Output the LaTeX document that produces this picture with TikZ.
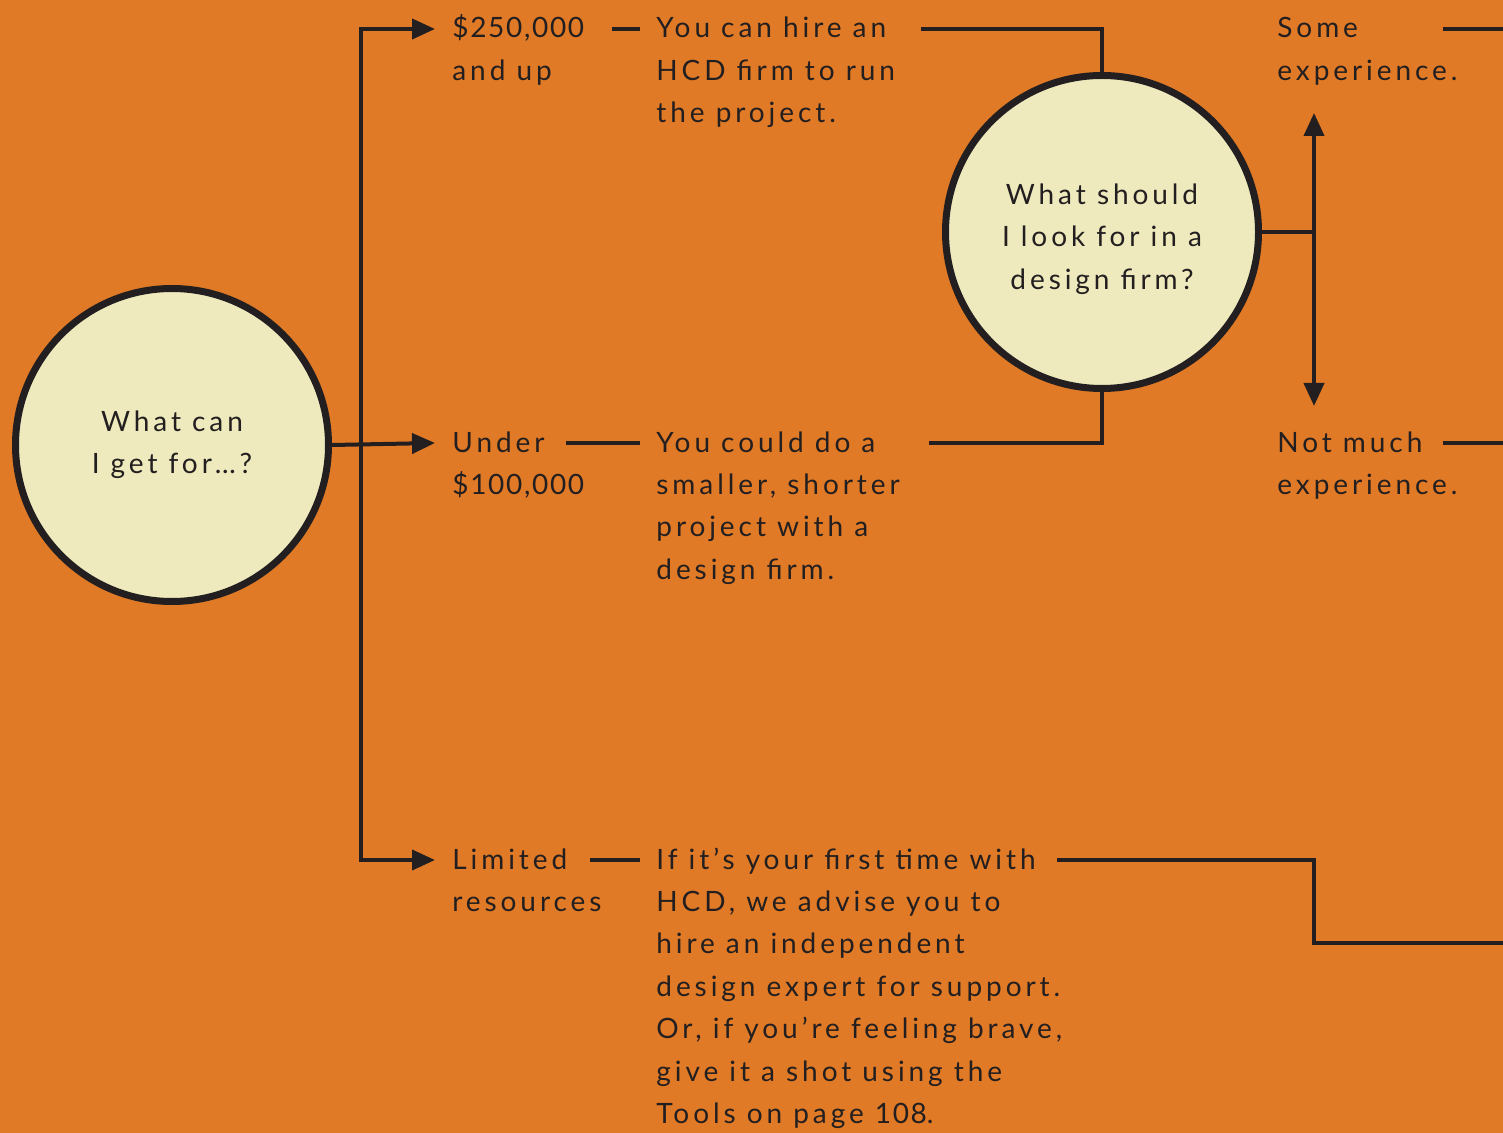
\documentclass[tikz,border=0pt]{standalone}
\usepackage{fontspec}
\setmainfont[LetterSpace=14]{Lato}
\newfontfamily\figfont[LetterSpace=6]{Lato}
\usetikzlibrary{arrows.meta,calc}
\definecolor{bgorange}{RGB}{224,122,38}
\definecolor{pale}{RGB}{238,234,189}
\definecolor{ink}{RGB}{35,31,32}
\newcommand{\textlines}[1]{\begin{tabular}[t]{@{}l@{}}#1\end{tabular}}
\tikzset{
  question/.style={circle,draw=ink,fill=pale,line width=3.5pt,minimum size=156.5pt,
    inner sep=0pt,align=center,text=ink},
  asking/.style={align=center,inner sep=0pt,text=ink},
  choice/.style={anchor=base west,inner sep=0pt,text=ink},
  link/.style={draw=ink,line width=2pt},
  tip/.style={link,-{Triangle[length=11.5pt,width=10pt]}},
  twotip/.style={link,{Triangle[length=11.5pt,width=10pt]}-{Triangle[length=11.5pt,width=10pt]}}
}
\begin{document}
\begin{tikzpicture}[x=0.5pt,y=-0.5pt,font=\fontsize{14}{21.2}\selectfont]
  \fill[bgorange] (0,0) rectangle (1503,1133);
  \useasboundingbox (0,0) rectangle (1503,1133);
  % questions
  \node[question] (q1) at (172,445) {What can\\I get for…?};
  \node[question] (q2) at (1102,232) {};
  \node[asking] (q2text) at (1102,239) {What should\\I look for in a\\design firm?};
  % budgets
  \node[choice] (b1) at (452,38) {\textlines{{\figfont\$250,000}\\and up}};
  \node[choice] (b2) at (452,452) {\textlines{Under\\{\figfont\$100,000}}};
  \node[choice] (b3) at (452,869) {\textlines{Limited\\resources}};
  % answers
  \node[choice] (a1) at (656,38) {\textlines{You can hire an\\HCD firm to run\\the project.}};
  \node[choice] (a2) at (656,452) {\textlines{You could do a\\smaller, shorter\\project with a\\design firm.}};
  \node[choice] (a3) at (656,869) {\textlines{If it’s your first time with\\HCD, we advise you to\\hire an independent\\design expert for support.\\Or, if you’re feeling brave,\\give it a shot using the\\Tools on page {\figfont 108}.}};
  \node[choice] (e1) at (1277,38) {\textlines{Some\\experience.}};
  \node[choice] (e2) at (1277,452) {\textlines{Not much\\experience.}};
  % helper points
  \coordinate (t1) at ([shift={(-17,-9)}]b1.base west);
  \coordinate (t2) at ([shift={(-17,-9)}]b2.base west);
  \coordinate (t3) at ([shift={(-17,-9)}]b3.base west);
  \coordinate (trunk) at (361,445);
  \coordinate (d1) at (612,29);
  \coordinate (d2) at (566,443);
  \coordinate (d3) at (590,860);
  \coordinate (s1) at (921,29);
  \coordinate (s2) at (929,443);
  \coordinate (s3) at (1057,860);
  \coordinate (fork) at (1314,232);
  \coordinate (up) at (1314,113);
  \coordinate (dn) at (1314,406);
  \coordinate (r1) at (1443,29);
  \coordinate (r2) at (1443,443);
  \coordinate (r3) at (1503,943);
  % connectors
  \draw[twotip] (t1) -| (trunk |- t3) -- (t3);
  \draw[tip] (q1.east) -- (t2);
  \draw[link] (d1) -- ([shift={(-16,-9)}]a1.base west);
  \draw[link] (d2) -- ([shift={(-16,-9)}]a2.base west);
  \draw[link] (d3) -- ([shift={(-16,-9)}]a3.base west);
  \draw[link] (s1) -| (q2.north);
  \draw[link] (s2) -| (q2.south);
  \draw[link] (s3) -| (fork |- r3) -- (r3);
  \draw[link] (q2.east) -- (fork);
  \draw[tip] (fork) -- (up);
  \draw[tip] (fork) -- (dn);
  \draw[link] (r1) -- (r1 -| r3);
  \draw[link] (r2) -- (r2 -| r3);
\end{tikzpicture}
\end{document}
